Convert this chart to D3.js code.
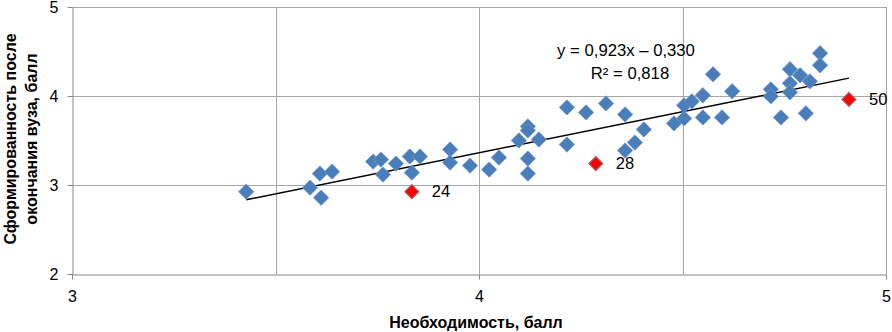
<!DOCTYPE html>
<html>
<head>
<meta charset="utf-8">
<script src="https://cdn.jsdelivr.net/npm/d3@7"></script>
<style>
  body { margin: 0; background: #fff; }
  svg text { font-family: "Liberation Sans", Arial, sans-serif; fill: #000; }
  .grid line { stroke: #a6a6a6; stroke-width: 1; }
  .axis path, .axis line { stroke: #868686; }
</style>
</head>
<body>
<svg id="chart" width="892" height="332"></svg>
<script>
// blue points (Необходимость, Сформированность)
var xVals = [3.428, 3.585, 3.612, 3.609, 3.639, 3.740, 3.759, 3.764, 3.796, 3.830,
             3.855, 3.835, 3.929, 3.929, 3.978, 4.025, 4.049, 4.098, 4.120, 4.120,
             4.147, 4.120, 4.120, 4.216, 4.216, 4.263, 4.312, 4.359, 4.359, 4.383,
             4.405, 4.479, 4.504, 4.504, 4.523, 4.550, 4.550, 4.575, 4.597, 4.622,
             4.717, 4.717, 4.742, 4.764, 4.764, 4.764, 4.789, 4.803, 4.813, 4.838, 4.838]
var yVals = [2.925, 2.970, 2.857, 3.128, 3.150, 3.263, 3.286, 3.117, 3.241, 3.320,
             3.320, 3.139, 3.399, 3.252, 3.218, 3.173, 3.308, 3.500, 3.658, 3.613,
             3.511, 3.297, 3.128, 3.872, 3.455, 3.816, 3.917, 3.793, 3.387, 3.477,
             3.624, 3.692, 3.748, 3.895, 3.940, 4.008, 3.759, 4.244, 3.759, 4.053,
             4.075, 3.996, 3.759, 4.301, 4.143, 4.041, 4.233, 3.805, 4.165, 4.481, 4.346]

// highlighted points with labels
var redLabels = ["24", "28", "50"]
var redX = [3.835, 4.287, 4.909]
var redY = [2.925, 3.241, 3.962]

// trend line y = a*x + b
var slope = 0.923, intercept = -0.330
var trendText = ["y = 0,923x – 0,330", "R² = 0,818"]

var xTicks = [3, 4, 5]
var xGrid = [3.5, 4, 4.5, 5]
var yTicks = [2, 3, 4, 5]

var svg = d3.select("#chart"),
    margin = {top: 7, right: 6, bottom: 58, left: 72},
    width  = +svg.attr("width")  - margin.left - margin.right,
    height = +svg.attr("height") - margin.top  - margin.bottom;

var x = d3.scaleLinear().domain([3, 5]).range([0, width]);
var y = d3.scaleLinear().domain([2, 5]).range([height, 0]);

var g = svg.append("g")
  .attr("transform", "translate(" + margin.left + "," + margin.top + ")");

// gridlines
var grid = g.append("g").attr("class", "grid");
grid.selectAll(".gx").data(xGrid).enter().append("line")
  .attr("x1", function(d) { return Math.round(x(d)) + 0.5; })
  .attr("x2", function(d) { return Math.round(x(d)) + 0.5; })
  .attr("y1", 0).attr("y2", height);
grid.selectAll(".gy").data(yTicks.slice(1)).enter().append("line")
  .attr("x1", 0).attr("x2", width)
  .attr("y1", function(d) { return Math.round(y(d)) + 0.5; })
  .attr("y2", function(d) { return Math.round(y(d)) + 0.5; });

// axes
var xAxis = g.append("g")
  .attr("class", "axis")
  .attr("transform", "translate(0," + (Math.round(height) + 0.5) + ")")
  .call(d3.axisBottom(x).tickValues(xTicks).tickSize(5).tickSizeOuter(0).tickFormat(d3.format("d")));
xAxis.selectAll("text").attr("font-size", 16).attr("dy", "1.2em");

var yAxis = g.append("g")
  .attr("class", "axis")
  .attr("transform", "translate(0.5,0)")
  .call(d3.axisLeft(y).tickValues(yTicks).tickSize(5).tickSizeOuter(0).tickFormat(d3.format("d")));
yAxis.selectAll("text").attr("font-size", 16).attr("x", -14);

// trend line
var x0 = d3.min(xVals.concat(redX)), x1 = d3.max(xVals.concat(redX));
g.append("line")
  .attr("x1", x(x0)).attr("y1", y(slope * x0 + intercept))
  .attr("x2", x(x1)).attr("y2", y(slope * x1 + intercept))
  .attr("stroke", "#000").attr("stroke-width", 1.5);

var diamond = d3.symbol().type(d3.symbolDiamond2).size(150);

// blue points
g.selectAll(".pt").data(xVals).enter().append("path")
  .attr("class", "pt")
  .attr("d", diamond)
  .attr("transform", function(d, i) { return "translate(" + x(d) + "," + y(yVals[i]) + ")"; })
  .attr("fill", "#4a7ebb")
  .attr("stroke", "#6f97c8").attr("stroke-width", 0.8);

// red points
g.selectAll(".rpt").data(redX).enter().append("path")
  .attr("class", "rpt")
  .attr("d", d3.symbol().type(d3.symbolDiamond2).size(125))
  .attr("transform", function(d, i) { return "translate(" + x(d) + "," + y(redY[i]) + ")"; })
  .attr("fill", "#ff0000")
  .attr("stroke", "#9a6a6a").attr("stroke-width", 1.2);

g.selectAll(".rlab").data(redX).enter().append("text")
  .attr("x", function(d) { return x(d) + 20; })
  .attr("y", function(d, i) { return y(redY[i]); })
  .attr("dy", "0.35em")
  .attr("font-size", 16.5)
  .text(function(d, i) { return redLabels[i]; });

// trend equation
g.append("text")
  .attr("x", 554).attr("y", 50 - margin.top)
  .attr("text-anchor", "middle").attr("dy", "0.35em")
  .attr("font-size", 16.7)
  .text(trendText[0]);
g.append("text")
  .attr("x", 558).attr("y", 73 - margin.top)
  .attr("text-anchor", "middle").attr("dy", "0.35em")
  .attr("font-size", 16.7)
  .text(trendText[1]);

// axis titles
svg.append("text")
  .attr("x", margin.left + width / 2 - 3).attr("y", 322)
  .attr("text-anchor", "middle").attr("dy", "0.35em")
  .attr("font-size", 16).attr("font-weight", "bold")
  .text("Необходимость, балл");

var yt = svg.append("text")
  .attr("transform", "translate(0," + 139 + ") rotate(-90)")
  .attr("text-anchor", "middle")
  .attr("font-size", 16).attr("font-weight", "bold");
yt.append("tspan").attr("x", 0).attr("y", 16).text("Сформированность после");
yt.append("tspan").attr("x", 0).attr("y", 37).text("окончания вуза, балл");
</script>
</body>
</html>
